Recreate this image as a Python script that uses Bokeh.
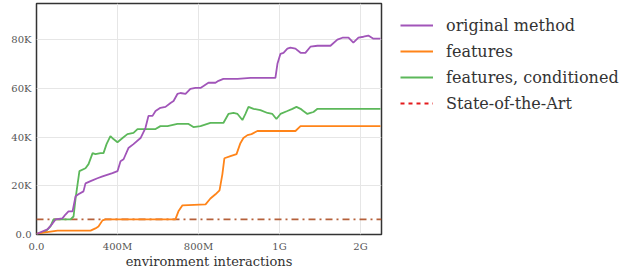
from bokeh.plotting import figure
from bokeh.models import Legend, LegendItem, FixedTicker, Range1d
from bokeh.layouts import row
from bokeh.embed import file_html
from bokeh.resources import INLINE

# x in millions of environment interactions, y in thousands
orig_x = [0, 5, 54, 79, 94, 128, 143, 158, 178, 183, 193, 207, 232, 242, 267, 301, 326, 375, 400, 415, 430, 454,
          479, 514, 538, 553, 573, 588, 612, 637, 662, 677, 696, 711, 736, 760, 785, 810, 825, 849, 884, 899, 923,
          993, 1057, 1121, 1180, 1190, 1205, 1220, 1239, 1254, 1279, 1304, 1328, 1353, 1388, 1452, 1486, 1511,
          1541, 1565, 1590, 1615, 1639, 1664, 1699]
orig_y = [0, 0.4, 2.1, 4.5, 6.2, 6.6, 8.2, 9.5, 9.5, 11.5, 15.7, 16.5, 17.7, 21.0, 21.9, 23.1, 23.9, 25.2, 26.0, 30.1, 30.9, 35.5,
          37.1, 39.6, 43.7, 48.7, 48.7, 50.7, 52.0, 52.4, 54.0, 54.8, 57.7, 58.1, 57.7, 59.8, 60.2, 60.2, 61.0, 62.3, 62.3, 63.1, 63.9,
          63.9, 64.3, 64.3, 64.3, 70.1, 74.2, 74.6, 76.3, 76.7, 76.3, 74.6, 74.6, 77.1, 77.5, 77.5, 80.0, 80.8,
          80.8, 78.8, 80.8, 81.2, 81.7, 80.4, 80.4]

feat_x = [0, 69, 104, 267, 291, 306, 326, 341, 686, 701, 721, 835, 859, 884, 904, 918, 928, 958, 988, 1007, 1022,
          1042, 1062, 1091, 1279, 1304, 1699]
feat_y = [0.4, 1.2, 1.6, 1.6, 2.5, 3.3, 5.8, 6.2, 6.2, 9.5, 12.0, 12.4, 14.8, 16.5, 18.1, 24.7, 31.3, 32.2, 33.0, 37.5, 39.6,
          40.8, 41.2, 42.5, 42.5, 44.5, 44.5]

cond_x = [0, 5, 44, 69, 84, 168, 183, 193, 212, 242, 257, 277, 291, 316, 331, 346, 365, 380, 400, 425, 449, 479, 499,
          548, 588, 612, 647, 696, 751, 775, 810, 859, 923, 948, 973, 993, 1017, 1032, 1047, 1072, 1106, 1141, 1165,
          1185, 1205, 1239, 1264, 1284, 1304, 1318, 1338, 1353, 1368, 1388, 1699]
cond_y = [0, 0.4, 1.2, 3.3, 6.2, 6.2, 7.4, 14.8, 26.0, 27.2, 28.9, 33.4, 33.0, 33.4, 33.4, 37.1, 40.4, 39.2, 37.9, 39.6, 41.2, 41.7, 43.3,
          43.3, 43.3, 44.5, 44.5, 45.4, 45.4, 44.1, 44.5, 45.8, 45.8, 49.5, 49.9, 49.5, 47.0, 49.5, 52.4, 51.6, 51.1, 49.9, 49.5,
          47.4, 49.5, 50.7, 51.6, 52.4, 51.6, 50.7, 49.5, 49.9, 50.3, 51.6, 51.6]

sota_x = [0, 1704]
sota_y = [6.2, 6.2]

x_ticks = [0, 400, 800, 1200, 1600]
x_labels = ["0.0", "400M", "800M", "1G", "2G"]
y_ticks = [0, 20, 40, 60, 80]
y_labels = ["0.0", "20K", "40K", "60K", "80K"]

series_names = ["original method", "features", "features, conditioned", "State-of-the-Art"]
colors = ["#a155b9", "#ff8419", "#5cb85a", "#e41a1c"]

FONT = "'DejaVu Serif'"

p = figure(width=383, height=271, output_backend="svg", toolbar_location=None,
           x_range=Range1d(0, 1704), y_range=Range1d(0, 94.85),
           min_border_left=36, min_border_right=2, min_border_top=3, min_border_bottom=0)

p.background_fill_color = "white"
p.border_fill_color = "white"
p.outline_line_color = "#333333"
p.outline_line_width = 1.5

for ax, ticks, labels in ((p.xaxis, x_ticks, x_labels), (p.yaxis, y_ticks, y_labels)):
    ax.ticker = FixedTicker(ticks=ticks)
    ax.major_label_overrides = {t: l for t, l in zip(ticks, labels)}
    ax.major_tick_line_color = None
    ax.minor_tick_line_color = None
    ax.axis_line_color = None
    ax.major_label_text_font = FONT
    ax.major_label_text_font_size = "10px"
    ax.major_label_text_color = "#555555"
    ax.major_tick_out = 0
    ax.major_tick_in = 0

p.xaxis.major_label_standoff = 6
p.yaxis.major_label_standoff = 5
p.xaxis.axis_label = "environment interactions"
p.xaxis.axis_label_text_font = FONT
p.xaxis.axis_label_text_font_size = "13px"
p.xaxis.axis_label_text_font_style = "normal"
p.xaxis.axis_label_text_color = "#333333"
p.xaxis.axis_label_standoff = -1

p.xgrid.grid_line_color = "#e6e6e6"
p.ygrid.grid_line_color = "#e6e6e6"

p.line(sota_x, sota_y, color="#b5603a", line_width=1.8, line_dash="7 4 2 4")
p.line(cond_x, cond_y, color=colors[2], line_width=1.8)
p.line(feat_x, feat_y, color=colors[1], line_width=1.8)
p.line(orig_x, orig_y, color=colors[0], line_width=1.8)

# separate panel holding the legend (outside the plotting frame)
lf = figure(width=243, height=271, output_backend="svg", toolbar_location=None,
            x_range=Range1d(0, 1), y_range=Range1d(0, 1),
            x_axis_type=None, y_axis_type=None,
            min_border_left=0, min_border_right=0, min_border_top=0, min_border_bottom=0)
lf.outline_line_color = None
lf.grid.visible = False
lf.background_fill_color = "white"
lf.border_fill_color = "white"

dashes = ["solid", "solid", "solid", "4 4"]
items = []
for name, c, d in zip(series_names, colors, dashes):
    r = lf.line([-2, -1], [-2, -2], color=c, line_width=1.8, line_dash=d)
    items.append(LegendItem(label=name, renderers=[r]))

legend = Legend(items=items, location=(17, 121))
legend.border_line_color = None
legend.background_fill_alpha = 0
legend.label_text_font = FONT
legend.label_text_font_size = "16px"
legend.label_text_color = "#333333"
legend.glyph_width = 33
legend.glyph_height = 20
legend.label_height = 20
legend.label_standoff = 13
legend.spacing = 6
legend.padding = 0
legend.margin = 0
lf.add_layout(legend)

layout = row(p, lf, spacing=0)
open("out.html", "w").write(file_html(layout, INLINE))
